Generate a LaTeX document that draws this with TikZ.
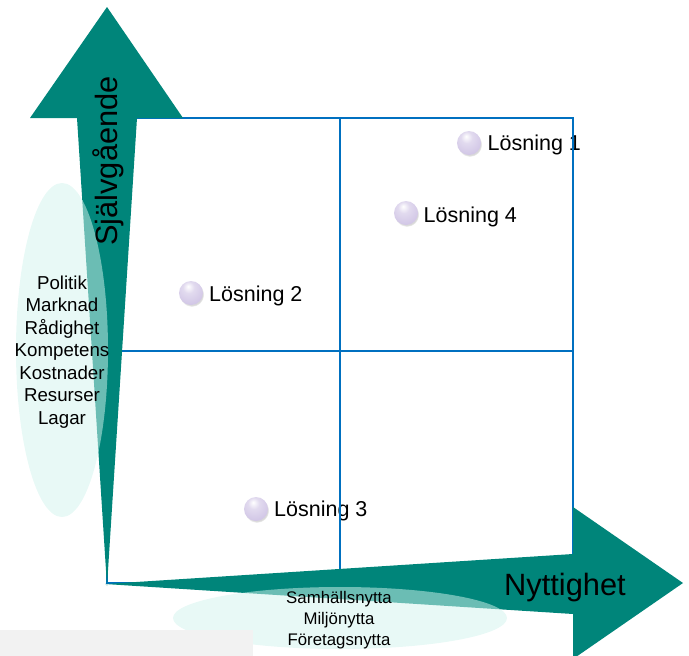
\documentclass[tikz,border=0pt]{standalone}
\usepackage{fontspec}
\setmainfont{Liberation Sans}
\usetikzlibrary{shadows}
\definecolor{tealarrow}{RGB}{0,133,122}
\definecolor{gridblue}{RGB}{0,112,192}
\definecolor{mist}{RGB}{210,243,237}
\definecolor{lav}{RGB}{206,194,228}
\definecolor{lavdark}{RGB}{150,134,180}
\pgfdeclareradialshading{sphere}{\pgfpoint{-6bp}{14bp}}{color(0bp)=(white); color(12bp)=(white!40!lav); color(36bp)=(lav); color(56bp)=(lavdark); color(70bp)=(lavdark)}
\begin{document}
\begin{tikzpicture}[x=1pt,y=-1pt,
  gridline/.style={draw=gridblue, line width=1.2pt},
  arrowshape/.style={fill=tealarrow},
  haze/.style={fill=mist, fill opacity=0.51},
  ball/.style={circle, minimum size=24pt, inner sep=0pt, shading=sphere,
    circular drop shadow={shadow xshift=0.8pt, shadow yshift=-1.5pt, opacity=0.3, shadow scale=1.03}},
  sollabel/.style={anchor=base west, inner sep=0pt, font=\fontsize{21.5}{25}\selectfont},
  axislabel/.style={anchor=base, inner sep=0pt, font=\fontsize{30.8}{36}\selectfont},
  factorlist/.style={align=center, inner sep=0pt, font=\fontsize{18.7}{22.5}\selectfont},
  benefitlist/.style={align=center, inner sep=0pt, font=\fontsize{16.8}{21}\selectfont}]
\useasboundingbox (0,0) rectangle (689,656);
\clip (0,0) rectangle (689,656);

% solutions placed in the matrix
\node[ball] (b1) at (469,143) {};
\node[ball] (b4) at (406,213) {};
\node[ball] (b2) at (191,293) {};
\node[ball] (b3) at (256,509) {};
\node[sollabel] (l1) at ([xshift=18.5pt,yshift=-7.5pt]b1.center) {Lösning 1};
\node[sollabel] (l4) at ([xshift=17.5pt,yshift=-9.5pt]b4.center) {Lösning 4};
\node[sollabel] (l2) at ([xshift=18pt,yshift=-8.5pt]b2.center) {Lösning 2};
\node[sollabel] (l3) at ([xshift=18pt,yshift=-7.5pt]b3.center) {Lösning 3};

% four-quadrant grid
\draw[gridline] (107,118) rectangle (573,583);
\draw[gridline] (340,118) -- (340,583);
\draw[gridline] (107,351) -- (573,351);

% tapered axis arrows
\fill[arrowshape] (77,118) -- (30,118) -- (107,7) -- (183,118) -- (137,118) -- (107,586) -- cycle;
\fill[arrowshape] (105,584) -- (573,554) -- (573,507) -- (683,583) -- (573,659) -- (573,614) -- cycle;

% translucent groupings
\fill[haze] (62,350) ellipse [x radius=46, y radius=167];
\fill[haze] (340,618) ellipse [x radius=167, y radius=31];
\fill[black!5] (0,630) rectangle (253,656);

% texts
\node[factorlist] (factors) at (62,352) {Politik\\Marknad\\Rådighet\\Kompetens\\Kostnader\\Resurser\\Lagar};
\node[benefitlist] (benefits) at (339,620) {Samhällsnytta\\Miljönytta\\Företagsnytta};
\node[axislabel] (xlab) at (565,595) {Nyttighet};
\node[axislabel, rotate=90] (ylab) at (117,161) {Självgående};
\end{tikzpicture}
\end{document}
